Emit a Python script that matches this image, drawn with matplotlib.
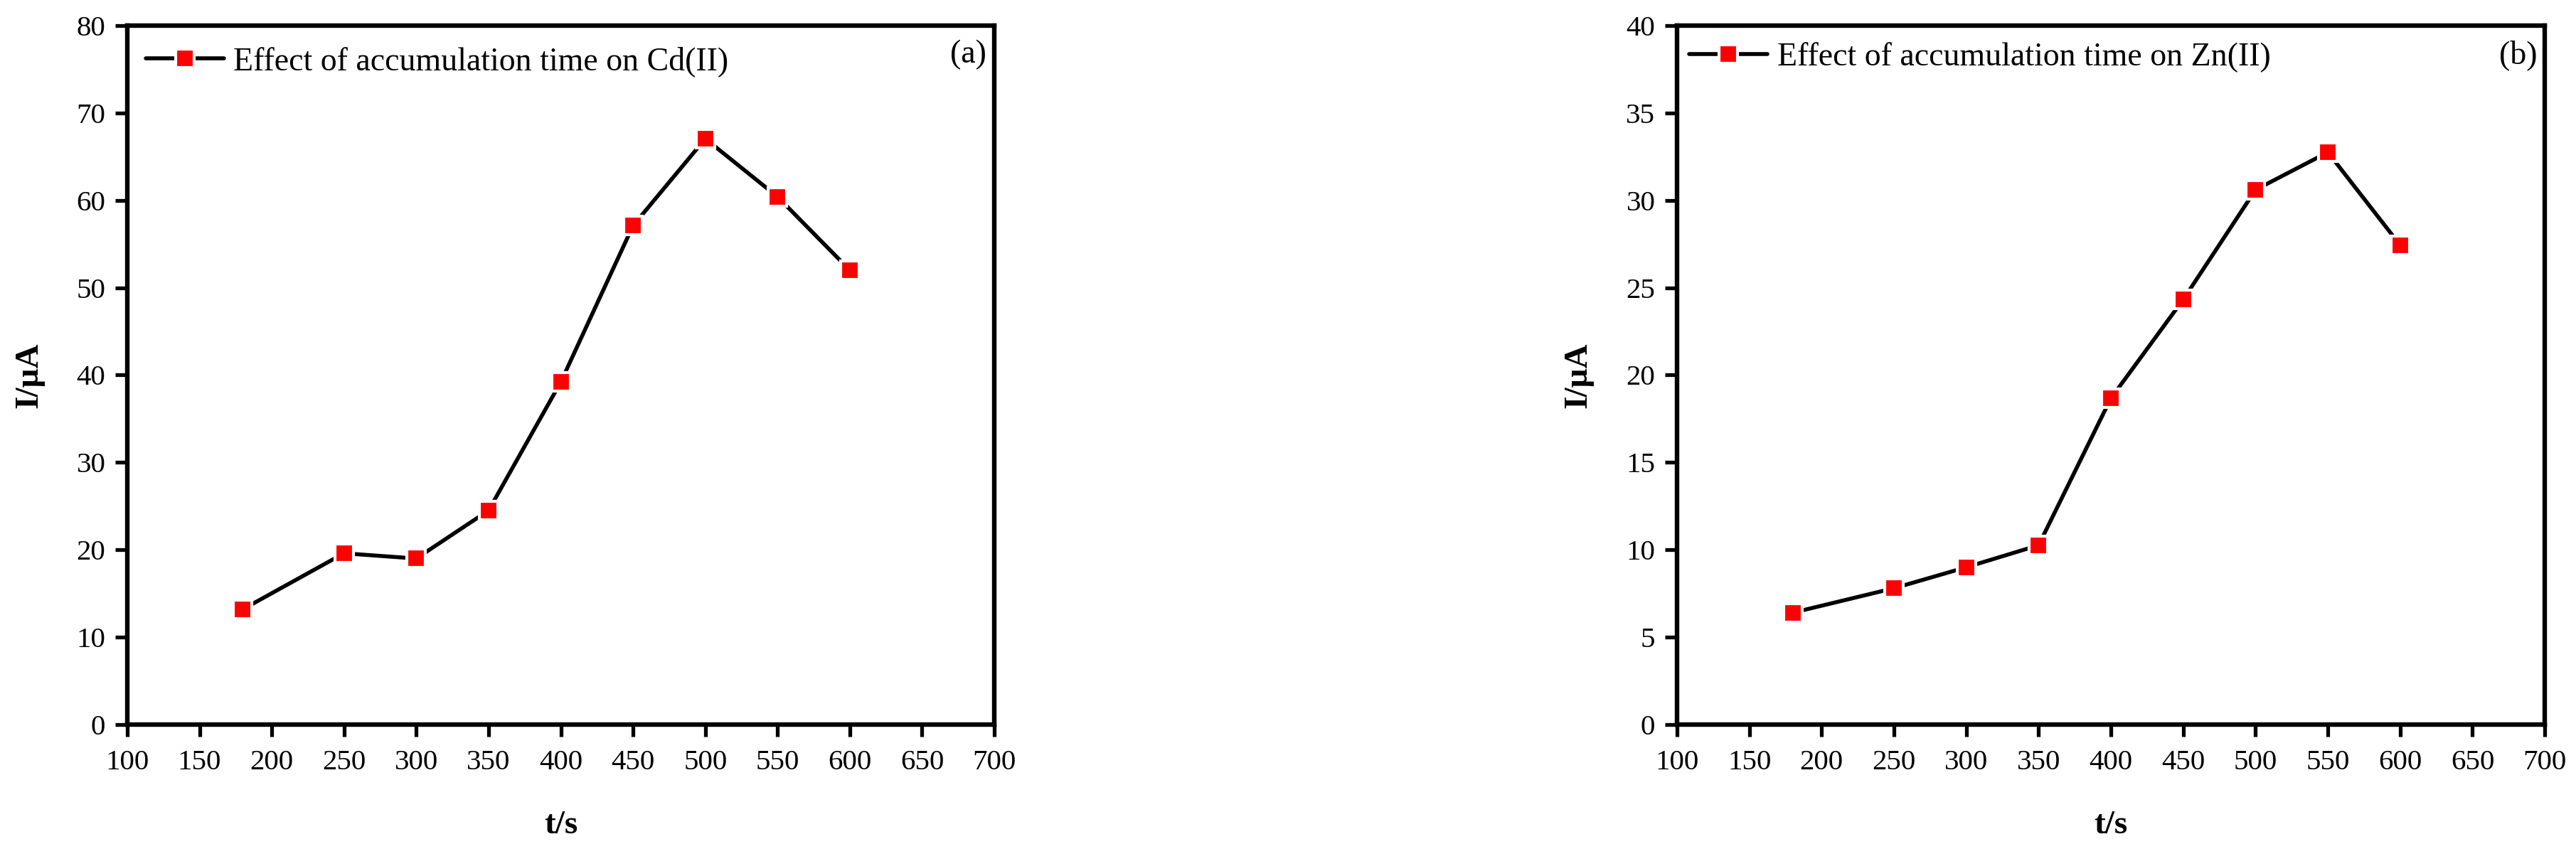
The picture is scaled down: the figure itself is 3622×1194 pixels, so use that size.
import matplotlib
matplotlib.use("Agg")
import matplotlib.pyplot as plt
from matplotlib.ticker import MultipleLocator

plt.rcParams['font.family'] = ['Liberation Serif', 'DejaVu Serif']
plt.rcParams['mathtext.fontset'] = 'stix'

t_cd = [180, 250, 300, 350, 400, 450, 500, 550, 600]
i_cd = [13.2, 19.6, 19.0, 24.5, 39.2, 57.1, 67.05, 60.4, 52.0]
t_zn = [180, 250, 300, 350, 400, 450, 500, 550, 600]
i_zn = [6.4, 7.8, 9.0, 10.26, 18.67, 24.32, 30.6, 32.75, 27.43]

label_cd = "Effect of accumulation time on Cd(II)"
label_zn = "Effect of accumulation time on Zn(II)"
panel_tags = ["(a)", "(b)"]
xlabel = "t/s"
ylabel = "I/μA"

fig = plt.figure(figsize=(36.22, 11.94), dpi=100)
ax1 = fig.add_axes([0.0494, 0.1466, 0.3366, 0.8233])
ax2 = fig.add_axes([0.651, 0.1466, 0.3369, 0.8233])

specs = [
    (ax1, t_cd, i_cd, label_cd, panel_tags[0], 80, 10, 0.021, 0.948),
    (ax2, t_zn, i_zn, label_zn, panel_tags[1], 40, 5, 0.014, 0.954),
]

for ax, x, y, lab, tag, ymax, ystep, lx, ly in specs:
    ax.plot(x, y, color='black', lw=4.0, marker='s', ms=18.5,
            markerfacecolor='#ff0000', markeredgecolor='white', mew=3,
            solid_capstyle='round', label=lab)
    ax.set_xlim(100, 700)
    ax.set_ylim(0, ymax)
    ax.xaxis.set_major_locator(MultipleLocator(50))
    ax.yaxis.set_major_locator(MultipleLocator(ystep))
    for s in ax.spines.values():
        s.set_linewidth(4.6)
    ax.tick_params(axis='both', which='major', direction='out', length=12,
                   width=3.8, labelsize=29.5, color='black')
    ax.tick_params(axis='x', pad=13)
    ax.tick_params(axis='y', pad=10)
    ax.set_xlabel(xlabel, fontsize=34, fontweight='bold')
    ax.set_ylabel(ylabel, fontsize=34, fontweight='bold')
    ax.xaxis.set_label_coords(0.5, -0.123)
    ax.yaxis.set_label_coords(-0.096, 0.5)
    leg = ax.legend(loc='center left', bbox_to_anchor=(lx, ly), frameon=False,
                    fontsize=33, borderpad=0, borderaxespad=0, numpoints=1,
                    handlelength=2.4, handletextpad=0.3)
    ax.text(0.991, 0.958, tag, transform=ax.transAxes, ha='right', va='center',
            fontsize=33)

fig.savefig("out.png", dpi=100)
